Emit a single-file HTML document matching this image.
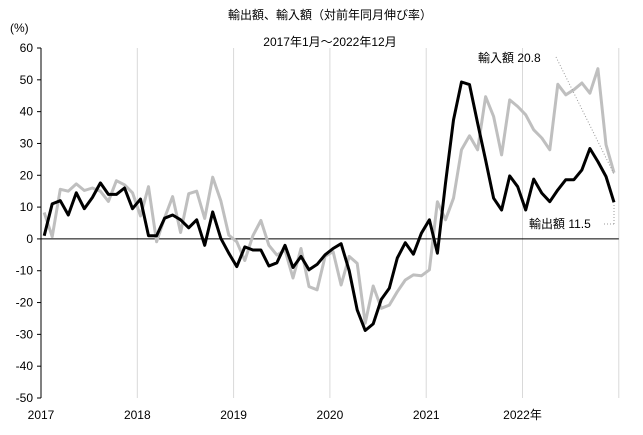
<!DOCTYPE html>
<html><head><meta charset="utf-8"><style>
body{margin:0;background:#fff;}
svg{display:block;font-family:"Liberation Sans","Noto Sans CJK JP",sans-serif;}
</style></head><body>
<svg id="chart" width="643" height="435">
<text x="330" y="19" font-size="12" text-anchor="middle">輸出額、輸入額（対前年同月伸び率）</text>
<text x="330" y="46" font-size="12" text-anchor="middle">2017年1月～2022年12月</text>
<text x="10" y="32" font-size="12">(%)</text>
<g id="grid"></g><g id="axes"></g><g id="series"></g>
<line x1="556" y1="57" x2="614" y2="174" stroke="#999" stroke-width="1" stroke-dasharray="1,2"/>
<text x="478" y="62" font-size="12">輸入額 20.8</text>
<line x1="604" y1="224" x2="614" y2="224" stroke="#999" stroke-width="1" stroke-dasharray="1,2"/>
<line x1="614" y1="224" x2="614" y2="205" stroke="#999" stroke-width="1" stroke-dasharray="1,2"/>
<text x="529" y="228" font-size="12">輸出額 11.5</text>
</svg>
<script>
const yTicks=[60,50,40,30,20,10,0,-10,-20,-30,-40,-50];
const yearLabels=["2017","2018","2019","2020","2021","2022年"];
const exportsData=[1,11,12,7.5,14.5,9.5,13,17.6,14,14,16,9.5,12.5,1,1,6.5,7.5,6,3.5,6,-2,8.5,0.2,-4.5,-8.7,-2.5,-3.5,-3.5,-8.5,-7.5,-2,-9,-5.5,-9.7,-8,-5,-3,-1.5,-10,-22.3,-28.8,-26.7,-19,-15.5,-6,-1.2,-4.8,1.8,6,-4.5,17.5,37.4,49.3,48.5,36.4,24.8,12.8,9.1,19.8,16.4,9.1,18.8,14.4,11.7,15.4,18.6,18.6,21.7,28.4,24.3,19.6,11.5];
const importsData=[8.3,0.7,15.6,15,17.3,15.2,16,15,11.8,18.3,17,14.5,7.2,16.4,-0.9,6.6,13.3,2,14.2,15,6.4,19.4,12,1.2,-0.9,-6.8,1,5.8,-2,-5.1,-3.5,-12.3,-3,-15,-16,-5.5,-4,-14.5,-5.5,-7.7,-26.5,-14.8,-21.8,-20.8,-16.6,-12.9,-11.3,-11.6,-9.7,11.7,6,12.8,28,32.4,28,44.7,38.5,26.4,43.7,41.6,39,34.3,31.7,28,48.6,45.3,46.9,49,45.8,53.5,29.6,20.8];
const NS="http://www.w3.org/2000/svg";
const x0=41,yearW=96.3,yTop=48,yBot=398,vMax=60,vMin=-50;
function xScale(i){return x0+yearW*(i+0.4)/12;}
function yScale(v){return yTop+(vMax-v)*(yBot-yTop)/(vMax-vMin);}
function mk(tag,attrs,parent){const e=document.createElementNS(NS,tag);for(const k in attrs)e.setAttribute(k,attrs[k]);parent.appendChild(e);return e;}
const grid=document.getElementById('grid'),axes=document.getElementById('axes'),ser=document.getElementById('series');
yearLabels.forEach((lab,k)=>{
  const x=x0+yearW*k;
  if(k>0){const l=mk('line',{x1:x,x2:x,y1:yTop,y2:yBot,stroke:'#d9d9d9','stroke-width':1},grid);
  
  }
  const t=mk('text',{x:x,y:419,'font-size':12,'text-anchor':'middle'},axes);
  t.textContent=lab;
  
  
});
const gl=mk('line',{x1:x0+yearW*6,x2:x0+yearW*6,y1:yTop,y2:yBot,stroke:'#d9d9d9','stroke-width':1},grid);


yTicks.forEach(v=>{
  const y=yScale(v);
  const tk=mk('line',{x1:x0-4,x2:x0,y1:y,y2:y,stroke:'#000','stroke-width':1},axes);
  
  
  const t=mk('text',{x:x0-8,y:y+4,'font-size':12,'text-anchor':'end'},axes);
  t.textContent=v;
  
  
});
const ya=mk('line',{x1:x0,x2:x0,y1:yTop,y2:yBot,stroke:'#000','stroke-width':1},axes);


const zl=mk('line',{x1:x0,x2:x0+yearW*6,y1:yScale(0),y2:yScale(0),stroke:'#000','stroke-width':1},axes);


function pts(d){return d.map((v,i)=>xScale(i).toFixed(1)+','+yScale(v).toFixed(1)).join(' ');}
const pi=mk('polyline',{points:pts(importsData),fill:'none',stroke:'#bfbfbf','stroke-width':3,'stroke-linejoin':'round'},ser);


const pe=mk('polyline',{points:pts(exportsData),fill:'none',stroke:'#000','stroke-width':3,'stroke-linejoin':'round'},ser);


</script>
</body></html>
